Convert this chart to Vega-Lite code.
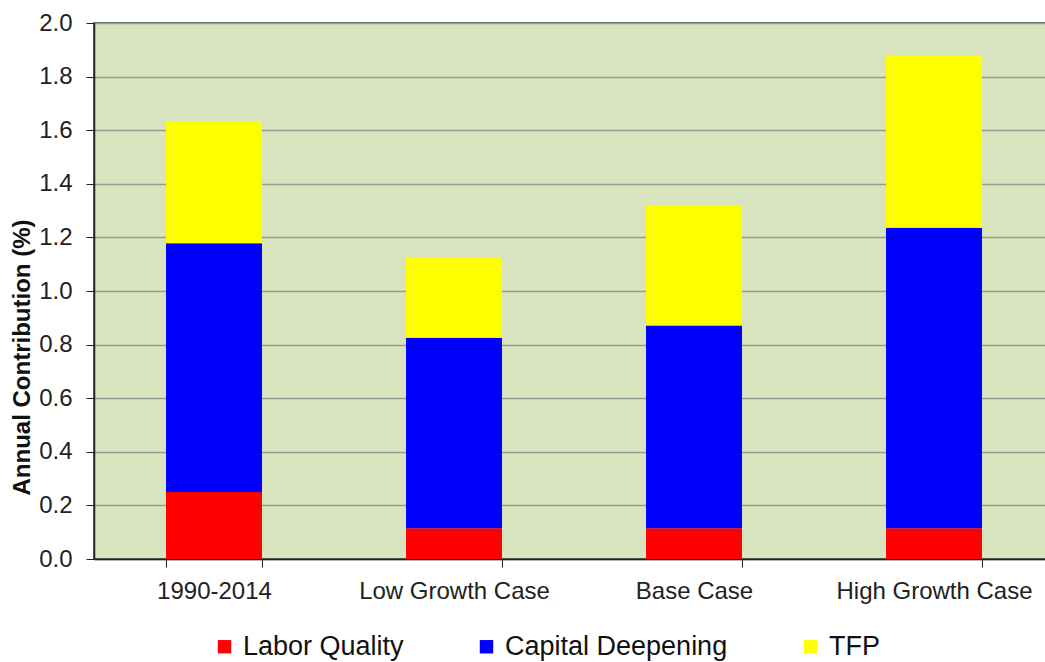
{
  "$schema": "https://vega.github.io/schema/vega-lite/v6.json",
  "autosize": {"type": "none"},
  "padding": {"left": 94, "top": 23, "right": 0, "bottom": 103},
  "width": 960,
  "height": 536,
  "background": "white",
  "config": {
    "font": "Liberation Sans",
    "view": {"fill": "#D8E4BE", "stroke": "#333333", "strokeWidth": 1.5}
  },
  "data": {
    "values": [
      {"period": "1990-2014", "component": "Labor Quality", "value": 0.25, "ord": 1},
      {"period": "1990-2014", "component": "Capital Deepening", "value": 0.928, "ord": 2},
      {"period": "1990-2014", "component": "TFP", "value": 0.456, "ord": 3},
      {"period": "Low Growth Case", "component": "Labor Quality", "value": 0.115, "ord": 1},
      {"period": "Low Growth Case", "component": "Capital Deepening", "value": 0.711, "ord": 2},
      {"period": "Low Growth Case", "component": "TFP", "value": 0.298, "ord": 3},
      {"period": "Base Case", "component": "Labor Quality", "value": 0.115, "ord": 1},
      {"period": "Base Case", "component": "Capital Deepening", "value": 0.756, "ord": 2},
      {"period": "Base Case", "component": "TFP", "value": 0.448, "ord": 3},
      {"period": "High Growth Case", "component": "Labor Quality", "value": 0.115, "ord": 1},
      {"period": "High Growth Case", "component": "Capital Deepening", "value": 1.121, "ord": 2},
      {"period": "High Growth Case", "component": "TFP", "value": 0.644, "ord": 3}
    ]
  },
  "mark": {"type": "bar"},
  "encoding": {
    "x": {
      "field": "period",
      "type": "nominal",
      "sort": ["1990-2014", "Low Growth Case", "Base Case", "High Growth Case"],
      "scale": {"paddingInner": 0.6, "paddingOuter": 0.3},
      "axis": {
        "title": null,
        "labelAngle": 0,
        "labelFontSize": 24,
        "labelLimit": 0,
        "labelColor": "#222222",
        "labelPadding": 12,
        "tickBand": "extent",
        "tickSize": 8,
        "tickColor": "#222222",
        "domainColor": "#222222",
        "domainWidth": 1.5,
        "grid": false
      }
    },
    "y": {
      "field": "value",
      "type": "quantitative",
      "stack": "zero",
      "scale": {"domain": [0, 2.0], "nice": false},
      "axis": {
        "title": "Annual Contribution (%)",
        "titleFontSize": 24,
        "titleFontWeight": "bold",
        "titleColor": "#111111",
        "titleX": -60,
        "titleY": 334,
        "values": [0, 0.2, 0.4, 0.6, 0.8, 1.0, 1.2, 1.4, 1.6, 1.8, 2.0],
        "format": ".1f",
        "labelFontSize": 24,
        "labelColor": "#222222",
        "labelPadding": 14,
        "tickSize": 8,
        "tickColor": "#222222",
        "domainColor": "#222222",
        "domainWidth": 1.5,
        "grid": true,
        "gridColor": "#999999",
        "gridWidth": 1.3
      }
    },
    "color": {
      "field": "component",
      "type": "nominal",
      "scale": {
        "domain": ["Labor Quality", "Capital Deepening", "TFP"],
        "range": ["#FF0000", "#0000FF", "#FFFF00"]
      },
      "legend": {
        "title": null,
        "orient": "none",
        "direction": "horizontal",
        "legendX": 117,
        "legendY": 610,
        "symbolType": "square",
        "symbolSize": 180,
        "symbolStrokeWidth": 0,
        "labelFontSize": 27,
        "labelLimit": 0,
        "labelColor": "#111111",
        "labelOffset": 5,
        "columnPadding": 69
      }
    },
    "order": {"field": "ord", "type": "quantitative"}
  }
}
